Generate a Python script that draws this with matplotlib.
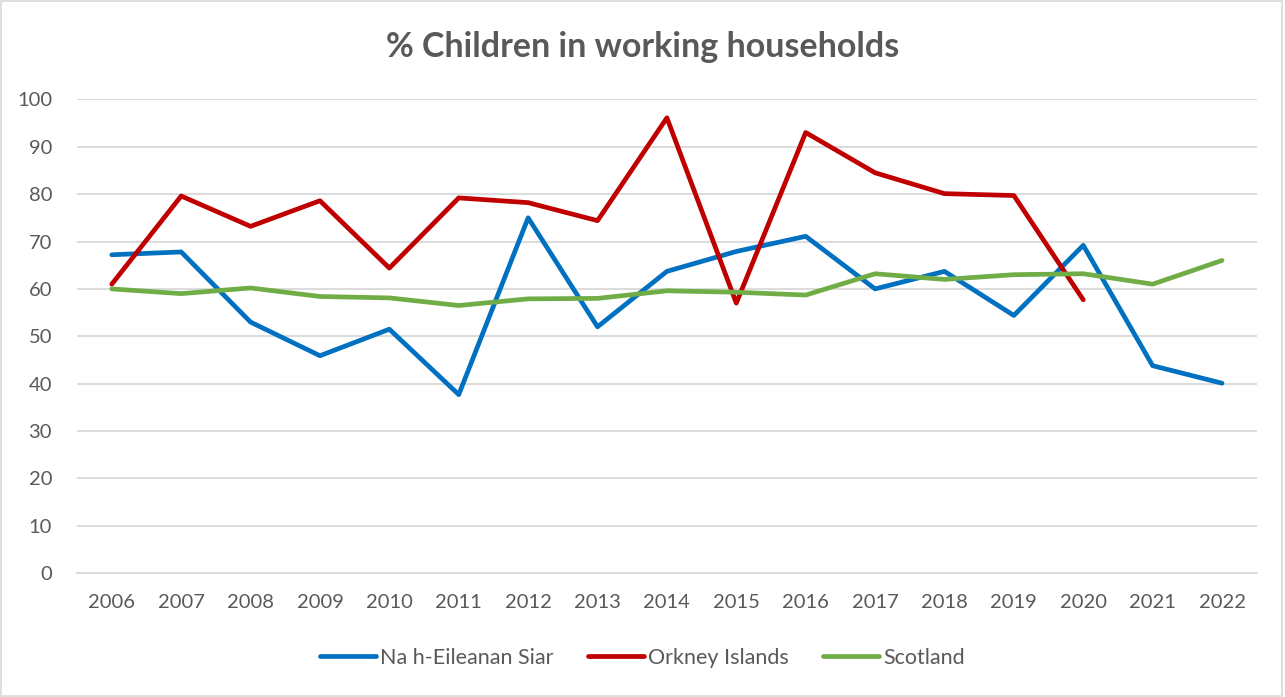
import matplotlib
matplotlib.use("Agg")
import matplotlib.pyplot as plt
from matplotlib.patches import Rectangle

years = list(range(2006, 2023))
eilean_siar = [67.2, 67.8, 53.0, 45.9, 51.5, 37.7, 75.0, 52.0, 63.7, 67.9, 71.1, 60.0, 63.7, 54.4, 69.2, 43.8, 40.1]
orkney_years = list(range(2006, 2021))
orkney = [61.0, 79.6, 73.2, 78.6, 64.4, 79.2, 78.2, 74.4, 96.1, 57.0, 93.0, 84.5, 80.1, 79.7, 57.7]
scotland = [60.0, 59.0, 60.2, 58.4, 58.1, 56.5, 57.9, 58.0, 59.6, 59.3, 58.7, 63.2, 62.0, 63.0, 63.2, 61.0, 66.0]
yticks = list(range(0, 101, 10))

plt.rcParams['font.family'] = ['Lato', 'DejaVu Sans']
txt = '#595959'

fig = plt.figure(figsize=(12.85, 6.97), dpi=100)
ax = fig.add_axes([0.060, 0.1775, 0.918, 0.680])

lw = 3.4
ax.plot(years, eilean_siar, color='#0070C0', lw=lw, label='Na h-Eileanan Siar', solid_joinstyle='round', solid_capstyle='round', zorder=3)
ax.plot(orkney_years, orkney, color='#C00000', lw=lw, label='Orkney Islands', solid_joinstyle='round', solid_capstyle='round', zorder=3)
ax.plot(years, scotland, color='#70AD47', lw=lw, label='Scotland', solid_joinstyle='round', solid_capstyle='round', zorder=3)

ax.set_xlim(2005.5, 2022.5)
ax.set_ylim(0, 100)
ax.set_yticks(yticks)
ax.set_xticks(years)
ax.set_xticklabels([str(y) for y in years])
ax.grid(axis='y', color='#D9D9D9', lw=1.3)
ax.set_axisbelow(True)
for s in ['top', 'right', 'left']:
    ax.spines[s].set_visible(False)
ax.spines['bottom'].set_color('#D9D9D9')
ax.spines['bottom'].set_linewidth(1.3)
ax.tick_params(axis='both', length=0, labelsize=14.5, colors=txt)
ax.tick_params(axis='x', pad=15)
ax.tick_params(axis='y', pad=18)

fig.text(0.5, 0.932, '% Children in working households', ha='center', va='center',
         fontsize=24.5, fontweight='bold', color=txt)

leg = fig.legend(loc='center', bbox_to_anchor=(0.5, 0.056), ncol=3, frameon=False,
                 fontsize=15.5, handlelength=2.6, handletextpad=0.2, columnspacing=1.6)
for t in leg.get_texts():
    t.set_color(txt)

fig.patches.append(Rectangle((0.001, 0.001), 0.997, 0.997, transform=fig.transFigure,
                             fill=False, edgecolor='#D9D9D9', lw=1.2))

fig.savefig('out.png', dpi=100, facecolor='white')
